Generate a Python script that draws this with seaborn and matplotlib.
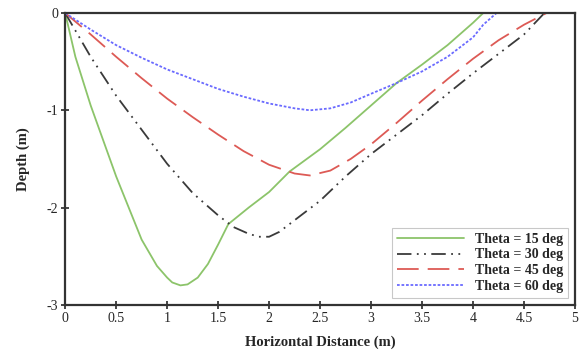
import numpy as np
import pandas as pd
import seaborn as sns
import matplotlib.pyplot as plt

# values
x15 = [0, 0.1, 0.25, 0.5, 0.75, 0.9, 1.0, 1.05, 1.13, 1.2, 1.3, 1.4, 1.5, 1.6, 1.8, 2.0, 2.2, 2.5, 2.75, 3.0, 3.25, 3.5, 3.75, 4.0, 4.1]
y15 = [0, -0.45, -0.95, -1.68, -2.33, -2.6, -2.72, -2.77, -2.8, -2.79, -2.72, -2.58, -2.38, -2.17, -2.0, -1.84, -1.63, -1.4, -1.18, -0.95, -0.72, -0.53, -0.33, -0.1, 0]

x30 = [0, 0.25, 0.5, 0.75, 1.0, 1.25, 1.5, 1.65, 1.8, 1.9, 2.0, 2.1, 2.25, 2.5, 2.75, 3.0, 3.25, 3.5, 3.75, 4.0, 4.25, 4.5, 4.7]
y30 = [0, -0.45, -0.85, -1.2, -1.55, -1.85, -2.08, -2.2, -2.27, -2.3, -2.3, -2.25, -2.13, -1.93, -1.68, -1.45, -1.25, -1.05, -0.83, -0.62, -0.42, -0.22, 0]

x45 = [0, 0.25, 0.5, 0.75, 1.0, 1.25, 1.5, 1.75, 2.0, 2.25, 2.4, 2.6, 2.8, 3.0, 3.25, 3.5, 3.75, 4.0, 4.25, 4.5, 4.72]
y45 = [0, -0.22, -0.45, -0.67, -0.88, -1.07, -1.25, -1.42, -1.56, -1.65, -1.67, -1.62, -1.5, -1.35, -1.13, -0.9, -0.68, -0.47, -0.28, -0.12, 0]

x60 = [0, 0.25, 0.5, 0.75, 1.0, 1.25, 1.5, 1.75, 2.0, 2.25, 2.4, 2.6, 2.8, 3.0, 3.25, 3.5, 3.75, 4.0, 4.1, 4.23]
y60 = [0, -0.17, -0.33, -0.46, -0.58, -0.68, -0.78, -0.86, -0.93, -0.98, -1.0, -0.98, -0.92, -0.83, -0.72, -0.6, -0.45, -0.25, -0.12, 0]

labels = ["Theta = 15 deg", "Theta = 30 deg", "Theta = 45 deg", "Theta = 60 deg"]
colors = ["#8cc46a", "#3a3a3a", "#dd5a55", "#6a6aff"]
styles = ["-", (0, (8, 3, 1, 3, 1, 3)), (0, (12, 5)), (0, (1.5, 1))]

sns.set_style("ticks")
plt.rcParams["font.family"] = ["Liberation Serif", "DejaVu Serif"]

fig = plt.figure(figsize=(5.82, 3.52), dpi=100)
ax = fig.add_axes([0.112, 0.134, 0.876, 0.829])

for xs, ys, lab, c, ls in zip([x15, x30, x45, x60], [y15, y30, y45, y60], labels, colors, styles):
    df = pd.DataFrame({"x": xs, "y": ys})
    sns.lineplot(data=df, x="x", y="y", ax=ax, color=c, label=lab, sort=False,
                 linewidth=1.3, estimator=None)
    ax.lines[-1].set_linestyle(ls)

ax.set_xlim(0, 5)
ax.set_ylim(-3, 0)
ax.set_xticks(np.arange(0, 5.01, 0.5))
ax.set_xticklabels(["0", "0.5", "1", "1.5", "2", "2.5", "3", "3.5", "4", "4.5", "5"])
ax.set_yticks([0, -1, -2, -3])
ax.set_yticklabels(["0", "-1", "-2", "-3"])
ax.tick_params(direction="inout", length=6, width=1.2, labelsize=10, pad=2)
for s in ax.spines.values():
    s.set_linewidth(1.6)
    s.set_color("#333333")

ax.set_xlabel("Horizontal Distance (m)", fontweight="bold", fontsize=10.5, labelpad=8)
ax.set_ylabel("Depth (m)", fontweight="bold", fontsize=10.5, labelpad=12)

leg = ax.legend(loc="lower right", prop={"weight": "bold", "size": 10},
                frameon=True, fancybox=False, handlelength=4.8, borderpad=0.35,
                labelspacing=0.2, borderaxespad=0.5)
leg.get_frame().set_edgecolor("#bbbbbb")
leg.get_frame().set_linewidth(0.8)

fig.savefig("out.png", dpi=100)
